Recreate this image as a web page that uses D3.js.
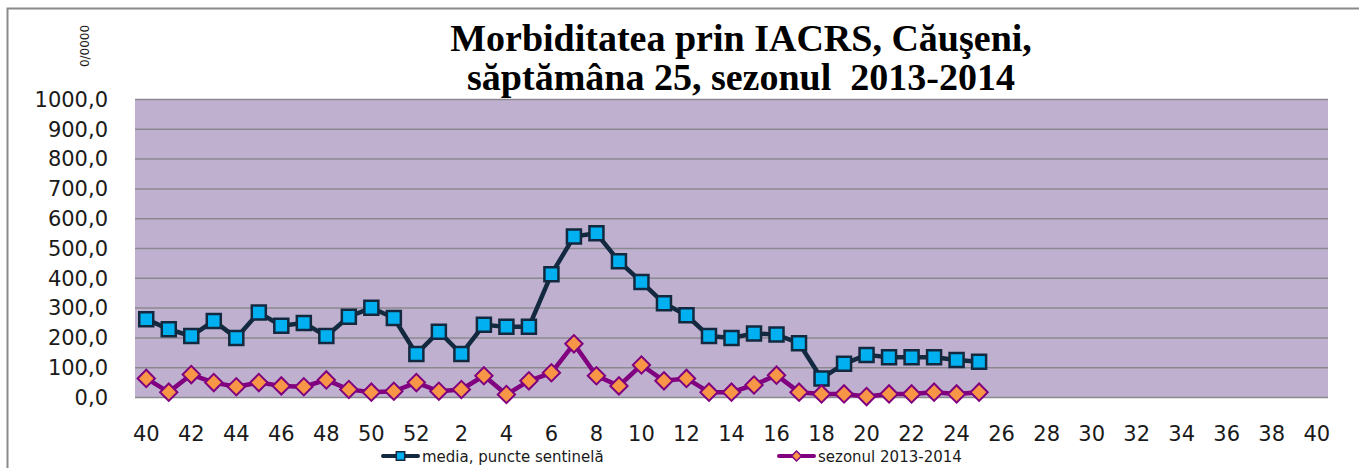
<!DOCTYPE html>
<html>
<head>
<meta charset="utf-8">
<script src="https://cdn.jsdelivr.net/npm/d3@7"></script>
<style>
  body { margin: 0; background: #fff; }
  svg { display: block; }
</style>
</head>
<body>
<svg width="1359" height="468"></svg>
<script>
// Weeks of the season (40..52, then 1..40)
var weeks = [40, 41, 42, 43, 44, 45, 46, 47, 48, 49, 50, 51, 52,
  1, 2, 3, 4, 5, 6, 7, 8, 9, 10, 11, 12, 13, 14, 15, 16, 17, 18, 19, 20,
  21, 22, 23, 24, 25, 26, 27, 28, 29, 30, 31, 32, 33, 34, 35, 36, 37, 38, 39, 40];

// media, puncte sentinela (weeks 40 .. 25)
var media = [263, 229, 206, 257, 200, 285, 241, 250, 206, 271, 301, 267, 146,
  221, 146, 244, 237, 237, 414, 540, 551, 457, 388, 316, 276, 206, 200, 215,
  211, 182, 64, 113, 143, 135, 135, 135, 126, 120];

// sezonul 2013-2014
var sezon = [64, 18, 77, 50, 36, 50, 39, 36, 59, 27, 18, 21, 50,
  21, 27, 73, 10, 56, 83, 180, 73, 39, 109, 56, 64, 18, 18, 42, 75, 18,
  12, 12, 3, 12, 12, 18, 12, 18];

var yTicks = [0, 100, 200, 300, 400, 500, 600, 700, 800, 900, 1000];
var seriesNames = ["media, puncte sentinelă", "sezonul 2013-2014"];
var titleLines = ["Morbiditatea prin IACRS, Căuşeni,", "săptămâna 25, sezonul  2013-2014"];

var svg = d3.select("svg"),
  width = +svg.attr("width"),
  height = +svg.attr("height");

var plot = { left: 135, right: 1328, top: 99.5, bottom: 397.5 };

// outer frame
svg.append("rect")
  .attr("x", 7.5).attr("y", 8.5)
  .attr("width", 1400).attr("height", 500)
  .attr("fill", "none")
  .attr("stroke", "#8a8a8a")
  .attr("stroke-width", 2);

var x = d3.scaleBand()
  .domain(d3.range(weeks.length))
  .range([plot.left, plot.right]);

var y = d3.scaleLinear()
  .domain([0, 1000])
  .range([plot.bottom, plot.top]);

function cx(i) { return x(i) + x.bandwidth() / 2; }

// plot background
svg.append("rect")
  .attr("x", plot.left).attr("y", plot.top)
  .attr("width", plot.right - plot.left)
  .attr("height", plot.bottom - plot.top)
  .attr("fill", "#bfb0d0");

// gridlines
svg.append("g")
  .selectAll("line")
  .data(yTicks)
  .enter()
  .append("line")
  .attr("x1", plot.left).attr("x2", plot.right)
  .attr("y1", function (d) { return y(d); })
  .attr("y2", function (d) { return y(d); })
  .attr("stroke", "#8c8890")
  .attr("stroke-width", 1.5);

// y axis labels
var yAxis = d3.axisLeft(y)
  .tickValues(yTicks)
  .tickSize(0)
  .tickPadding(27)
  .tickFormat(function (d) { return d3.format(".1f")(d).replace(".", ","); });

svg.append("g")
  .attr("transform", "translate(" + plot.left + ",0)")
  .call(yAxis)
  .call(function (g) { g.select(".domain").remove(); })
  .selectAll("text")
  .attr("font-family", "DejaVu Sans")
  .attr("font-size", "21px")
  .attr("fill", "#1a1a1a");

// x axis labels
var xAxis = d3.axisBottom(x)
  .tickValues(d3.range(0, weeks.length, 2))
  .tickSize(0)
  .tickPadding(29)
  .tickFormat(function (i) { return weeks[i]; });

svg.append("g")
  .attr("transform", "translate(0," + plot.bottom + ")")
  .call(xAxis)
  .call(function (g) { g.select(".domain").remove(); })
  .selectAll("text")
  .attr("font-family", "DejaVu Sans")
  .attr("font-size", "21px")
  .attr("fill", "#1a1a1a");

// unit label
svg.append("text")
  .attr("transform", "translate(89,46) rotate(-90)")
  .attr("text-anchor", "middle")
  .attr("font-family", "DejaVu Sans")
  .attr("font-size", "12px")
  .attr("fill", "#1a1a1a")
  .text("0/0000");

// title
svg.append("g")
  .selectAll("text")
  .data(titleLines)
  .enter()
  .append("text")
  .attr("x", 741)
  .attr("y", function (d, i) { return 51 + i * 39; })
  .attr("text-anchor", "middle")
  .attr("font-family", "Liberation Serif")
  .attr("font-weight", "bold")
  .attr("font-size", "38px")
  .attr("fill", "#000")
  .style("white-space", "pre")
  .text(function (d) { return d; });

var line = d3.line()
  .x(function (d, i) { return cx(i); })
  .y(function (d) { return y(d); });

var lineColor1 = "#13293f", fill1 = "#00b0f0";
var lineColor2 = "#800080", fill2 = "#f79646";

// media series
svg.append("path")
  .datum(media)
  .attr("d", line)
  .attr("fill", "none")
  .attr("stroke", lineColor1)
  .attr("stroke-width", 4.5)
  .attr("stroke-linejoin", "round");

// sezon series
svg.append("path")
  .datum(sezon)
  .attr("d", line)
  .attr("fill", "none")
  .attr("stroke", lineColor2)
  .attr("stroke-width", 4.5)
  .attr("stroke-linejoin", "round");

var square = d3.symbol().type(d3.symbolSquare).size(196);
var diamond = d3.symbol().type(d3.symbolSquare).size(150);

svg.append("g")
  .selectAll("path")
  .data(media)
  .enter()
  .append("path")
  .attr("d", square)
  .attr("transform", function (d, i) { return "translate(" + cx(i) + "," + y(d) + ")"; })
  .attr("fill", fill1)
  .attr("stroke", lineColor1)
  .attr("stroke-width", 2.5);

svg.append("g")
  .selectAll("path")
  .data(sezon)
  .enter()
  .append("path")
  .attr("d", diamond)
  .attr("transform", function (d, i) { return "translate(" + cx(i) + "," + y(d) + ") rotate(45)"; })
  .attr("fill", fill2)
  .attr("stroke", lineColor2)
  .attr("stroke-width", 2);

// legend
var legendItems = [
  { name: seriesNames[0], x: 383, stroke: lineColor1, fill: fill1, rot: 0, size: 70 },
  { name: seriesNames[1], x: 779, stroke: lineColor2, fill: fill2, rot: 45, size: 50 }
];
var lg = svg.append("g").selectAll("g")
  .data(legendItems)
  .enter()
  .append("g")
  .attr("transform", function (d) { return "translate(" + d.x + ",456)"; });

lg.append("line")
  .attr("x1", 0).attr("x2", 35)
  .attr("stroke", function (d) { return d.stroke; })
  .attr("stroke-width", 4)
  .attr("stroke-linecap", "round");

lg.append("path")
  .attr("d", function (d) { return d3.symbol().type(d3.symbolSquare).size(d.size)(); })
  .attr("transform", function (d) { return "translate(17.5,0) rotate(" + d.rot + ")"; })
  .attr("fill", function (d) { return d.fill; })
  .attr("stroke", function (d) { return d.stroke; })
  .attr("stroke-width", 1.5);

lg.append("text")
  .attr("x", 39)
  .attr("y", 6)
  .attr("font-family", "DejaVu Sans")
  .attr("font-size", "15px")
  .attr("fill", "#1a1a1a")
  .text(function (d) { return d.name; });
</script>
</body>
</html>
